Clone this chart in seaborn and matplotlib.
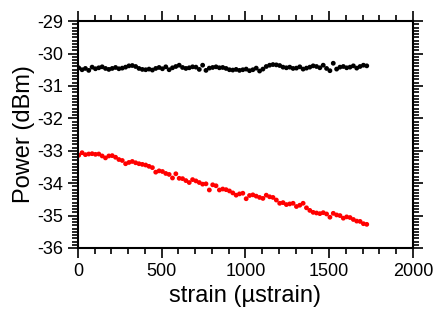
import matplotlib
matplotlib.use("Agg")
import matplotlib.pyplot as plt
from matplotlib.ticker import MultipleLocator
import seaborn as sns
import pandas as pd

# strain readings (ustrain), shared by both traces
strain = [5, 25, 45, 65, 85, 105, 125, 145, 165, 185,
          205, 225, 245, 265, 285, 305, 325, 345, 365, 385,
          405, 425, 445, 465, 485, 505, 525, 545, 565, 585,
          605, 625, 645, 665, 685, 705, 725, 745, 765, 785,
          805, 825, 845, 865, 885, 905, 925, 945, 965, 985,
          1005, 1025, 1045, 1065, 1085, 1105, 1125, 1145, 1165, 1185,
          1205, 1225, 1245, 1265, 1285, 1305, 1325, 1345, 1365, 1385,
          1405, 1425, 1445, 1465, 1485, 1505, 1525, 1545, 1565, 1585,
          1605, 1625, 1645, 1665, 1685, 1705, 1725]

# reference power (black) - flat
power_ref = [-30.44, -30.50, -30.46, -30.52, -30.42, -30.47, -30.44, -30.41, -30.46, -30.49,
             -30.46, -30.43, -30.47, -30.45, -30.42, -30.38, -30.37, -30.40, -30.46, -30.49,
             -30.50, -30.48, -30.51, -30.46, -30.43, -30.47, -30.41, -30.50, -30.44, -30.40,
             -30.36, -30.43, -30.46, -30.44, -30.41, -30.42, -30.49, -30.36, -30.52, -30.45,
             -30.43, -30.41, -30.44, -30.43, -30.46, -30.50, -30.51, -30.49, -30.52, -30.50,
             -30.48, -30.53, -30.50, -30.45, -30.54, -30.48, -30.40, -30.36, -30.34, -30.35,
             -30.37, -30.42, -30.44, -30.42, -30.46, -30.45, -30.41, -30.48, -30.45, -30.42,
             -30.38, -30.40, -30.44, -30.36, -30.46, -30.53, -30.30, -30.48, -30.42, -30.40,
             -30.44, -30.42, -30.38, -30.45, -30.40, -30.36, -30.38]

# sensing power (red) - falls with strain
power_sens = [-33.14, -33.06, -33.12, -33.10, -33.09, -33.11, -33.10, -33.16, -33.22, -33.16,
              -33.15, -33.20, -33.27, -33.30, -33.40, -33.36, -33.33, -33.37, -33.40, -33.42,
              -33.44, -33.48, -33.52, -33.66, -33.62, -33.64, -33.70, -33.73, -33.84, -33.71,
              -33.85, -33.86, -33.92, -33.98, -33.89, -33.93, -33.98, -34.03, -34.02, -34.21,
              -34.05, -34.08, -34.21, -34.18, -34.20, -34.24, -34.30, -34.37, -34.33, -34.31,
              -34.48, -34.38, -34.36, -34.40, -34.44, -34.47, -34.37, -34.42, -34.44, -34.52,
              -34.62, -34.60, -34.66, -34.64, -34.62, -34.72, -34.68, -34.62, -34.76, -34.84,
              -34.90, -34.92, -34.94, -34.91, -34.95, -35.05, -34.93, -34.98, -35.00, -35.08,
              -35.04, -35.06, -35.12, -35.17, -35.18, -35.25, -35.27]

sns.set_style("ticks", {'axes.edgecolor': 'black', 'text.color': 'black',
                        'xtick.color': 'black', 'ytick.color': 'black',
                        'axes.labelcolor': 'black'})
plt.rcParams['font.family'] = ['Liberation Sans', 'DejaVu Sans']
plt.rcParams['axes.unicode_minus'] = False

df = pd.DataFrame({
    'strain': strain * 2,
    'power': power_ref + power_sens,
    'trace': ['ref'] * len(strain) + ['sens'] * len(strain),
})

fig = plt.figure(figsize=(4.35, 3.2), dpi=100)
ax = fig.add_axes([0.179, 0.225, 0.770, 0.709])
sns.scatterplot(data=df, x='strain', y='power', hue='trace',
                palette={'ref': 'black', 'sens': 'red'},
                s=12, linewidth=0, legend=False, ax=ax)

ax.set_xlim(0, 2000)
ax.set_ylim(-36, -29)
ax.xaxis.set_major_locator(MultipleLocator(500))
ax.xaxis.set_minor_locator(MultipleLocator(100))
ax.yaxis.set_major_locator(MultipleLocator(1))
ax.yaxis.set_minor_locator(MultipleLocator(0.1))
ax.tick_params(which='both', direction='out', top=True, right=True,
               labeltop=False, labelright=False, width=1.2, labelsize=13,
               color='black', labelcolor='black')
ax.tick_params(which='major', length=7)
ax.tick_params(which='minor', length=4)
for sp in ax.spines.values():
    sp.set_linewidth(1.5)
    sp.set_color('black')
    sp.set_visible(True)

ax.set_xlabel('strain (\u00b5strain)', fontsize=17, color='black', labelpad=4)
ax.set_ylabel('Power (dBm)', fontsize=17, color='black', labelpad=2)

fig.savefig('out.png', dpi=100)
